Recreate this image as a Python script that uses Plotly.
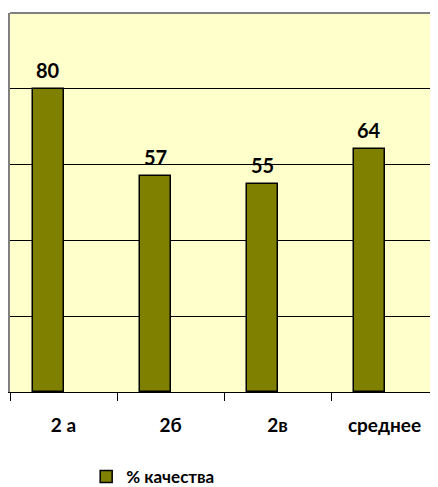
import plotly.graph_objects as go

categories = ["2 а", "2б", "2в", "среднее"]
values = [80, 57, 55, 64]
series_name = "% качества"

FONT = "Lato, Liberation Sans, sans-serif"
bar_w = 1 / 3.5  # clustered with empty second series, gap width 150%

fig = go.Figure()
fig.add_trace(go.Bar(
    x=categories, y=values, name=series_name,
    width=bar_w, offset=-bar_w,
    marker=dict(color="#808000", line=dict(color="#000000", width=1.5)),
    showlegend=True,
))

for i, v in enumerate(values):
    fig.add_annotation(x=i - bar_w / 2, y=v, text=str(v), showarrow=False,
                       yanchor="bottom", yshift=5,
                       font=dict(family=FONT, size=20, color="#000000", weight="bold"))

fig.add_shape(type="line", xref="paper", yref="paper", x0=0, x1=1, y0=1, y1=1,
              line=dict(color="#808080", width=2))

# page body has an 8px default margin, so the figure is sized to fit the window
fig.update_layout(
    width=430, height=479,
    margin=dict(l=2, r=0, t=5, b=95, autoexpand=False),
    paper_bgcolor="#FFFFFF",
    plot_bgcolor="#FFFFCC",
    font=dict(family=FONT, color="#000000"),
    bargap=0,
    legend=dict(orientation="h", x=0.178, xanchor="left", y=-0.224, yanchor="middle",
                font=dict(family=FONT, size=17, color="#000000", weight="bold"),
                itemwidth=30, borderwidth=0),
    xaxis=dict(
        type="category",
        range=[-0.5, len(categories) - 0.5],
        tickson="boundaries",
        showgrid=False, zeroline=False, automargin=False,
        showline=True, linecolor="#000000", linewidth=1,
        ticks="outside", ticklen=8, tickcolor="#000000",
        tickfont=dict(family=FONT, size=19, color="#000000", weight="bold"),
        ticklabelstandoff=16,
    ),
    yaxis=dict(
        range=[0, 100], dtick=20, showticklabels=False, automargin=False,
        showgrid=True, gridcolor="#000000", gridwidth=1,
        zeroline=False, showline=True, linecolor="#808080", linewidth=2,
        ticks="",
    ),
)

fig.write_html("out.html")
